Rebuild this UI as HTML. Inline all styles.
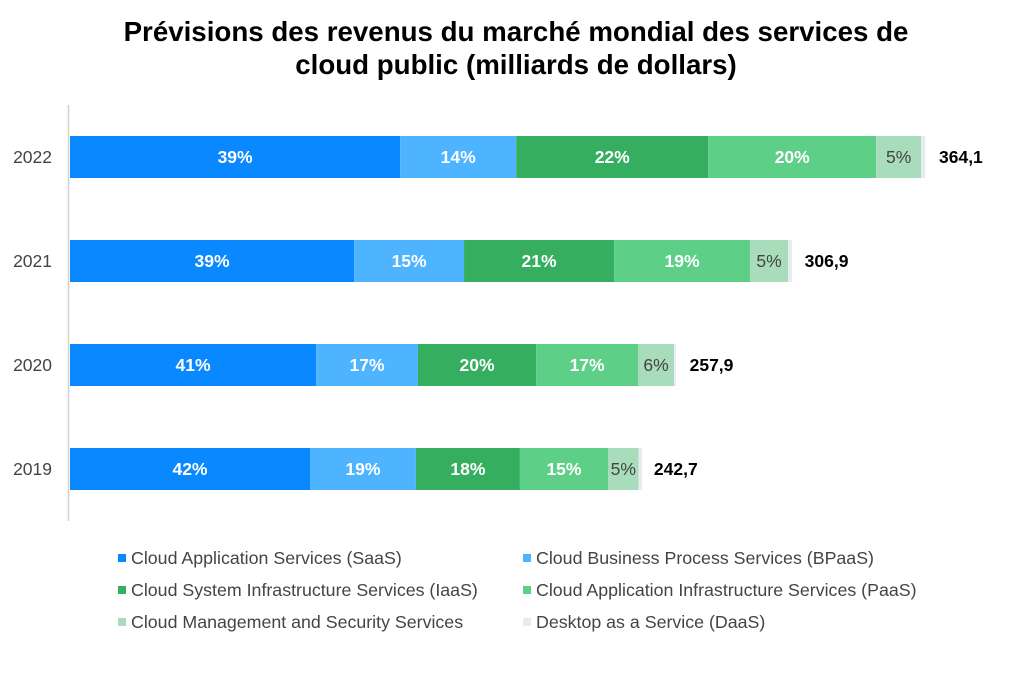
<!DOCTYPE html>
<html><head><meta charset="utf-8"><style>
body{margin:0;background:#fff;font-family:"Liberation Sans",Arial,sans-serif;}
svg text{font-family:"Liberation Sans",Arial,sans-serif;}
</style></head><body>
<svg id="chart" width="1032" height="680" xmlns="http://www.w3.org/2000/svg">
<text x="516" y="41" text-anchor="middle" font-size="27.7" font-weight="bold" fill="#000">Prévisions des revenus du marché mondial des services de</text>
<text x="516" y="74" text-anchor="middle" font-size="27.7" font-weight="bold" fill="#000">cloud public (milliards de dollars)</text>
<line x1="68.5" y1="105" x2="68.5" y2="521" stroke="#d0d0d0" stroke-width="1.5"/>
<g id="bars"></g>
<g id="legend"></g>
</svg>
<script>
const years = ["2022","2021","2020","2019"];
const totals = [364.1, 306.9, 257.9, 242.7];
const totalLabels = ["364,1","306,9","257,9","242,7"];
const saas = [140.6, 121.0, 104.8, 102.2];
const bpaas = [49.4, 46.8, 43.4, 45.1];
const iaas = [81.8, 63.9, 50.3, 44.3];
const paas = [71.5, 57.9, 43.4, 37.5];
const mgmt = [19.2, 16.2, 15.3, 13.0];
const daas = [1.7, 1.7, 0.9, 1.5];
const seriesNames = ["Cloud Application Services (SaaS)","Cloud Business Process Services (BPaaS)","Cloud System Infrastructure Services (IaaS)","Cloud Application Infrastructure Services (PaaS)","Cloud Management and Security Services","Desktop as a Service (DaaS)"];

const series = [saas,bpaas,iaas,paas,mgmt,daas];
const colors = ["#0a88ff","#4fb4ff","#35ae5f","#5ecf87","#a8dcba","#e9ebf3"];
const textColors = ["#fff","#fff","#fff","#fff","#444",null];
const NS = "http://www.w3.org/2000/svg";
const x0 = 70, scale = 855/364.1;
const xScale = v => v*scale;
const yCenter = i => 157 + i*104;
const barH = 42;
const bars = document.getElementById("bars");
function mk(tag, attrs, parent){const e=document.createElementNS(NS,tag);for(const k in attrs)e.setAttribute(k,attrs[k]);parent.appendChild(e);return e;}
years.forEach((yr,i)=>{
  const cy = yCenter(i);
  const yl = mk("text",{x:52,y:cy+6,"text-anchor":"end","font-size":17.5,fill:"#444"},bars);
  yl.textContent = yr;
  
  
  let x = x0;
  series.forEach((s,j)=>{
    const w = xScale(s[i]);
    const r = mk("rect",{x:x,y:cy-barH/2,width:w,height:barH,fill:colors[j]},bars);
    
    
    if(textColors[j]){
      const t = mk("text",{x:x+w/2,y:cy+6,"text-anchor":"middle","font-size":17.5,"font-weight":j<4?"bold":"normal",fill:textColors[j]},bars);
      t.textContent = Math.round(s[i]/totals[i]*100)+"%";
      
      
    }
    x += w;
  });
  const tl = mk("text",{x:x0+xScale(totals[i])+14,y:cy+6,"font-size":17.5,"font-weight":"bold",fill:"#000"},bars);
  tl.textContent = totalLabels[i];
  
  
});
const legend = document.getElementById("legend");
seriesNames.forEach((n,j)=>{
  const lx = j%2===0 ? 121 : 526;
  const ly = 558 + Math.floor(j/2)*32;
  const g = mk("g",{},legend);
  
  
  mk("rect",{x:lx-3,y:ly-4,width:8,height:8,fill:colors[j]},g);
  const t = mk("text",{x:lx+10,y:ly+6,"font-size":17.8,fill:"#444"},g);
  t.textContent = n;
});
</script>
</body></html>
